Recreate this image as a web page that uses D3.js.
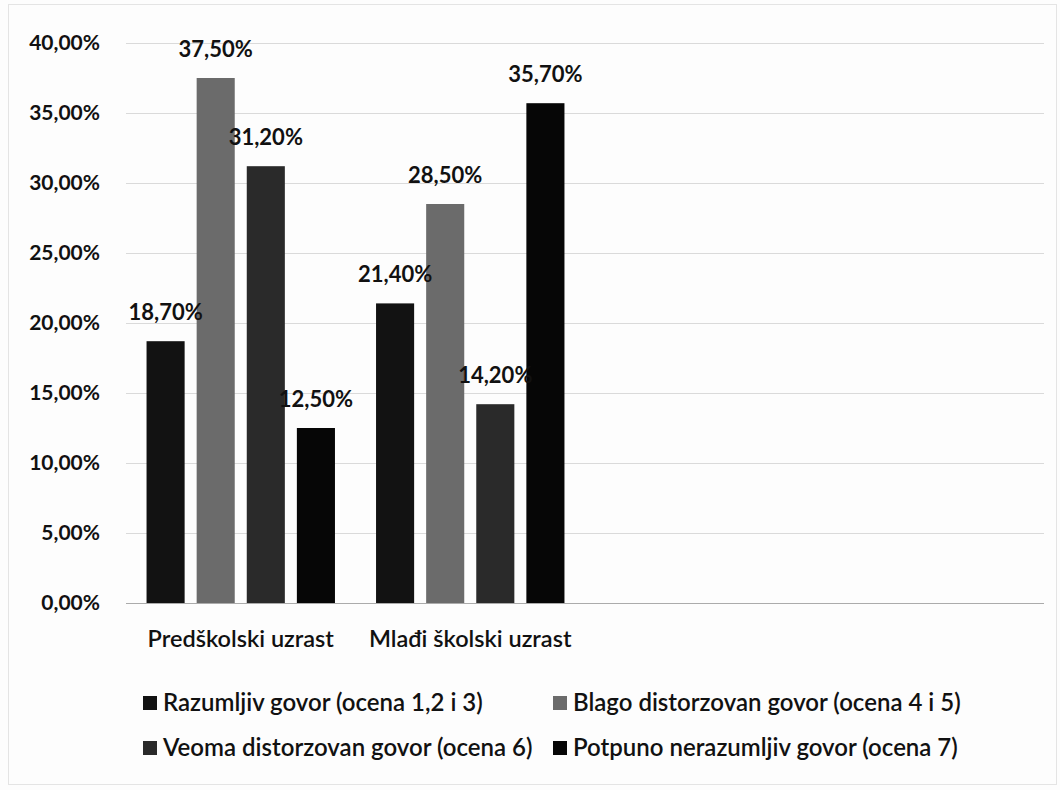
<!DOCTYPE html>
<html>
<head>
<meta charset="utf-8">
<script src="https://cdn.jsdelivr.net/npm/d3@7"></script>
<style>
  html, body { margin: 0; padding: 0; background: #fdfdfd; }
  svg { display: block; }
  text { font-family: Lato, "Open Sans", sans-serif; fill: #111; }
</style>
</head>
<body>
<svg id="chart" width="1060" height="790"></svg>
<script>
// Age groups on the x axis
const categories = ["Predškolski uzrast", "Mlađi školski uzrast"];

// Speech intelligibility series (share of children, %)
const seriesNames = [
  "Razumljiv govor (ocena 1,2 i 3)",
  "Blago distorzovan govor (ocena 4 i 5)",
  "Veoma distorzovan govor (ocena 6)",
  "Potpuno nerazumljiv govor (ocena 7)"
];
const razumljiv = [18.7, 21.4];
const blagoDistorzovan = [37.5, 28.5];
const veomaDistorzovan = [31.2, 14.2];
const potpunoNerazumljiv = [12.5, 35.7];

// Value axis ticks
const yTicks = [0, 5, 10, 15, 20, 25, 30, 35, 40];

const seriesValues = [razumljiv, blagoDistorzovan, veomaDistorzovan, potpunoNerazumljiv];
const seriesColors = ["#121212", "#6b6b6b", "#2a2a2a", "#060606"];

const svg = d3.select("#chart");
const W = 1060, H = 790;

// faint page frame
svg.append("rect")
  .attr("x", 8.5).attr("y", 4.5).attr("width", W - 12).attr("height", H - 10)
  .attr("fill", "#fdfdfd").attr("stroke", "#e4e4e4");

const plot = { left: 126, right: 1044, top: 43, bottom: 603 };

const y = d3.scaleLinear().domain([0, 40]).range([plot.bottom, plot.top]);

// The category axis reserves four slots; only the first two hold data.
const slot = (plot.right - plot.left) / 4;
const x0 = d3.scaleBand().domain(categories)
  .range([plot.left, plot.left + slot * categories.length]).padding(0);
const x1 = d3.scaleBand().domain(d3.range(seriesNames.length))
  .range([0, x0.bandwidth()]).paddingInner(0.24).paddingOuter(0.41);

const fmt = v => d3.format(".2f")(v).replace(".", ",") + "%";

// gridlines
svg.append("g")
  .selectAll("line")
  .data(yTicks)
  .join("line")
  .attr("x1", plot.left).attr("x2", plot.right)
  .attr("y1", d => Math.round(y(d)) + 0.5).attr("y2", d => Math.round(y(d)) + 0.5)
  .attr("stroke", d => d === 0 ? "#ababab" : "#dadada")
  .attr("stroke-width", 1);

// y axis labels
const yAxis = d3.axisLeft(y).tickValues(yTicks).tickFormat(fmt).tickSize(0).tickPadding(26);
const gy = svg.append("g").attr("transform", `translate(${plot.left},0)`).call(yAxis);
gy.select(".domain").remove();
gy.selectAll("text")
  .style("font-family", "Lato, sans-serif")
  .style("font-size", "21px")
  .style("font-weight", "700")
  .attr("fill", "#111");

// bars
const groups = svg.append("g")
  .selectAll("g")
  .data(categories)
  .join("g")
  .attr("transform", d => `translate(${x0(d)},0)`);

groups.selectAll("rect")
  .data((d, ci) => seriesValues.map((vals, si) => ({ si, v: vals[ci] })))
  .join("rect")
  .attr("x", d => x1(d.si))
  .attr("width", x1.bandwidth())
  .attr("y", d => y(d.v))
  .attr("height", d => y(0) - y(d.v))
  .attr("fill", d => seriesColors[d.si]);

// value labels
groups.selectAll("text.val")
  .data((d, ci) => seriesValues.map((vals, si) => ({ si, v: vals[ci] })))
  .join("text")
  .attr("class", "val")
  .attr("x", d => x1(d.si) + x1.bandwidth() / 2)
  .attr("y", d => y(d.v) - 21)
  .attr("text-anchor", "middle")
  .style("font-size", "22px")
  .style("font-weight", "700")
  .text(d => fmt(d.v));

// category axis labels
const xAxis = d3.axisBottom(x0).tickSize(0).tickPadding(27);
const gx = svg.append("g").attr("transform", `translate(0,${plot.bottom})`).call(xAxis);
gx.select(".domain").remove();
gx.selectAll("text")
  .style("font-family", "Lato, sans-serif")
  .style("font-size", "23.5px")
  .style("font-weight", "600")
  .attr("fill", "#111");

// legend, two columns by two rows
const legendCols = [143, 553];
const legendRows = [703, 748];
const legend = svg.append("g")
  .selectAll("g")
  .data(seriesNames)
  .join("g")
  .attr("transform", (d, i) => `translate(${legendCols[i % 2]},${legendRows[Math.floor(i / 2)]})`);

legend.append("rect")
  .attr("x", 0).attr("y", -7).attr("width", 14).attr("height", 14)
  .attr("fill", (d, i) => seriesColors[i]);

legend.append("text")
  .attr("x", 20).attr("y", 0)
  .attr("dy", "0.35em")
  .style("font-size", "24px")
  .style("font-weight", "600")
  .text(d => d);
</script>
</body>
</html>
